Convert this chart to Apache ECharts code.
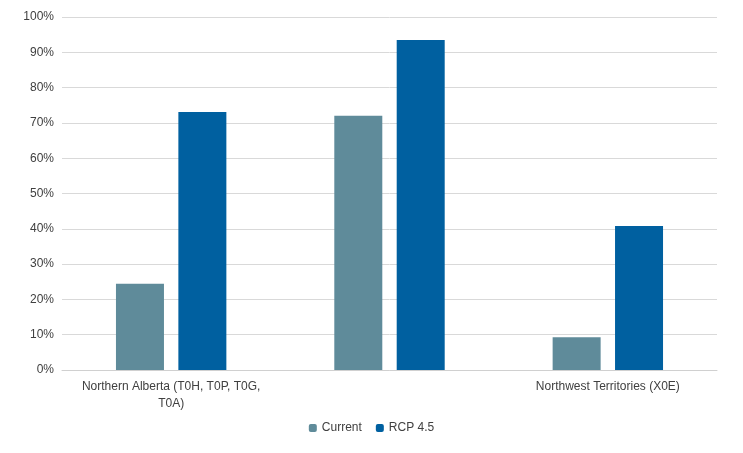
<!DOCTYPE html>
<html><head><meta charset="utf-8">
<script src="https://cdn.jsdelivr.net/npm/echarts@6/dist/echarts.min.js"></script>
<style>html,body{margin:0;padding:0;background:#fff}#box{width:743px;height:453px}</style>
</head><body><div id="box"></div>
<script>
var categories = ['Northern Alberta (T0H, T0P, T0G,\nT0A)', 'Northern Saskatoon (S0J, S0M, S0E,\nS0K)', 'Northwest Territories (X0E)'];
var currentVals = [24.4, 72.0, 9.3];
var rcpVals = [73.1, 93.5, 40.8];

var myChart = echarts.init(document.getElementById('box'));
var font = 'Liberation Sans';
myChart.setOption({
	animation: false,
	textStyle: { fontFamily: font },
	grid: { left: 62, right: 26, top: 17, bottom: 83 },
	legend: {
		bottom: 14, itemWidth: 8, itemHeight: 8, itemGap: 14,
		textStyle: { color: '#404040', fontSize: 12, fontFamily: font },
		data: ['Current', 'RCP 4.5']
	},
	xAxis: {
		type: 'category', data: categories,
		axisTick: { show: false },
		axisLine: { lineStyle: { color: '#d0d0d0' } },
		axisLabel: { color: '#404040', fontSize: 12, lineHeight: 17, margin: 8 }
	},
	yAxis: {
		type: 'value', min: 0, max: 100, interval: 10,
		axisLabel: { formatter: '{value}%', color: '#404040', fontSize: 12 },
		splitLine: { lineStyle: { color: '#d9d9d9' } }
	},
	series: [
		{ name: 'Current', type: 'bar', data: currentVals, barWidth: 48, barGap: '30%', itemStyle: { color: '#5f8b9a' } },
		{ name: 'RCP 4.5', type: 'bar', data: rcpVals, barWidth: 48, itemStyle: { color: '#0060a0' } }
	]
});
</script></body></html>
